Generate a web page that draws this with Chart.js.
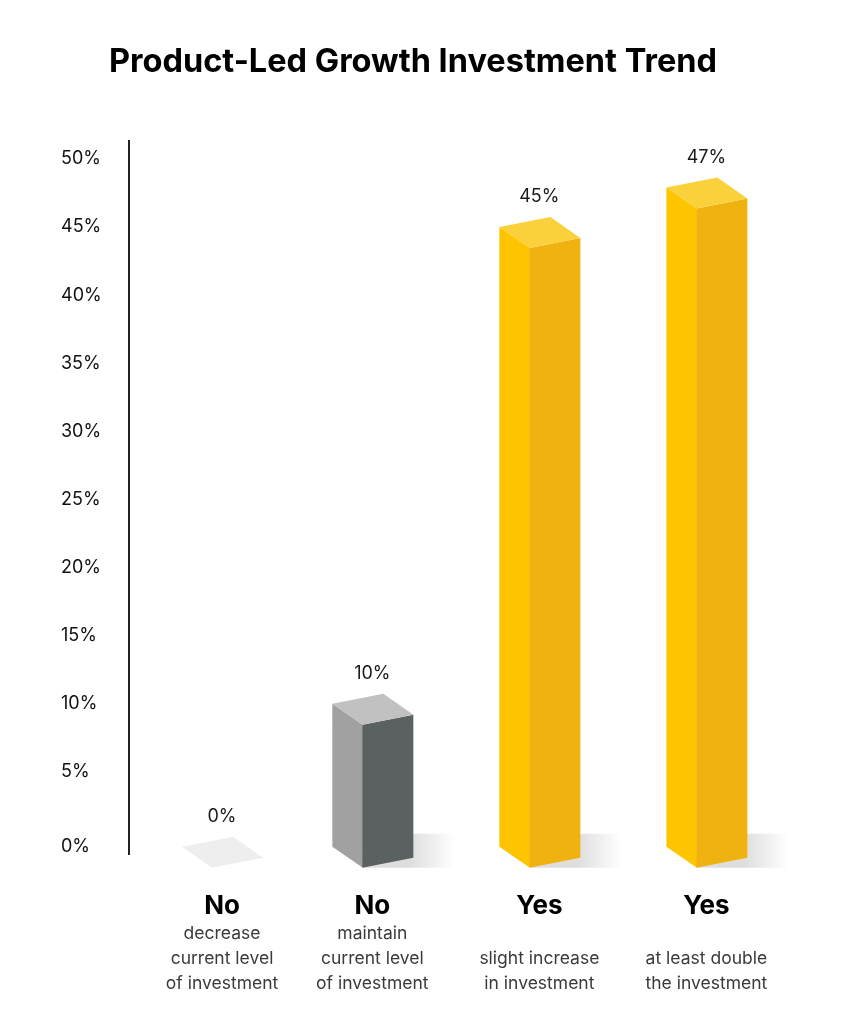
<!DOCTYPE html>
<html lang="en">
<head>
<meta charset="UTF-8">
<title>Product-Led Growth Investment Trend</title>
<script src="https://cdn.jsdelivr.net/npm/chart.js"></script>
<style>
    html, body { margin: 0; background: #fff; }
    canvas { display: block; }
</style>
</head>
<body>
<canvas id="grafico" width="858" height="1024"></canvas>
<script>
    const titleText = 'Product-Led Growth Investment Trend';
    const categories = ['No', 'No', 'Yes', 'Yes'];
    const descriptions = [
        ['decrease', 'current level', 'of investment'],
        ['maintain', 'current level', 'of investment'],
        ['', 'slight increase', 'in investment'],
        ['', 'at least double', 'the investment'],
    ];
    // the gap between the first two bars is narrower than the others in the picture
    const slots = [0, 0.9, 1.9, 2.9];
    const values = [0, 10, 45, 47.9]; // height as drawn, the last one is printed as 47%
    const valueLabels = ['0%', '10%', '45%', '47%'];
    const tickValues = [5, 10, 15, 20, 25, 30, 35, 40, 45, 50];
    const zeroLevel = -0.5; // 0% sits a little below the regular tick step

    const sideColors = ['#eeeeee', '#a1a1a1', '#ffc400', '#ffc400'];
    const frontColors = ['#eeeeee', '#5b6060', '#efb211', '#efb211'];
    const topColors = ['#eeeeee', '#c1c1c1', '#fbd13b', '#fbd13b'];

    const FONT = 'Inter, sans-serif';

    function poly(ctx, pts, color) {
        ctx.fillStyle = color;
        ctx.beginPath();
        pts.forEach((p, i) => i ? ctx.lineTo(p[0], p[1]) : ctx.moveTo(p[0], p[1]));
        ctx.closePath();
        ctx.fill();
    }

    // Box drawn from the bar element: same scales, three visible faces
    class Bar3dController extends Chart.BarController {
        draw() {
            const ctx = this.chart.ctx;
            const yScale = this.chart.scales.y;
            const base = yScale.getPixelForValue(zeroLevel);
            this.getMeta().data.forEach((bar, i) => {
                const x = bar.x;
                const top = values[i] === 0 ? base : bar.y;
                ctx.save();
                if (values[i] > 0) {
                    // soft floor shadow
                    const g = ctx.createLinearGradient(x + 38, 0, x + 82, 0);
                    g.addColorStop(0, 'rgba(0,0,0,0.13)');
                    g.addColorStop(1, 'rgba(0,0,0,0)');
                    poly(ctx, [[x + 36, base - 13], [x + 90, base - 13], [x + 85, base + 21], [x - 10, base + 21]], g);
                    // side runs half a pixel under the front face so no seam shows
                    poly(ctx, [[x - 40, top], [x - 9.5, top + 21], [x - 9.5, base + 21], [x - 40, base]], sideColors[i]);
                    poly(ctx, [[x - 10, top + 21], [x + 41, top + 11], [x + 41, base + 11], [x - 10, base + 21]], frontColors[i]);
                }
                poly(ctx, [[x - 40, top], [x + 11, top - 10], [x + 41, top + 11], [x - 10, top + 21]], topColors[i]);
                ctx.restore();
            });
        }
    }
    Bar3dController.id = 'bar3d';
    Chart.register(Bar3dController);

    const barText = {
        id: 'barText',
        afterDraw(chart) {
            const ctx = chart.ctx;
            const meta = chart.getDatasetMeta(0);
            const yScale = chart.scales.y;
            const base = yScale.getPixelForValue(zeroLevel);
            ctx.save();
            ctx.textAlign = 'center';
            ctx.textBaseline = 'middle';
            meta.data.forEach((bar, i) => {
                const top = values[i] === 0 ? base : bar.y;
                ctx.fillStyle = '#1a1a1a';
                ctx.font = '18px ' + FONT;
                ctx.fillText(valueLabels[i], bar.x, top - 30);
                ctx.fillStyle = '#3a3a3a';
                ctx.font = '17.5px ' + FONT;
                descriptions[i].forEach((line, k) => {
                    ctx.fillText(line, bar.x, 934 + k * 25);
                });
            });
            ctx.restore();
        }
    };

    new Chart(document.getElementById('grafico').getContext('2d'), {
        type: 'bar3d',
        plugins: [barText],
        data: {
            datasets: [{
                data: slots.map((s, i) => ({ x: s, y: values[i] })),
                clip: false,
            }]
        },
        options: {
            responsive: false,
            animation: false,
            layout: { padding: { left: 61, right: 93, top: 0, bottom: 0 } },
            plugins: {
                legend: { display: false },
                tooltip: { enabled: false },
                title: {
                    display: true,
                    text: titleText,
                    color: '#000',
                    font: { family: FONT, size: 32.5, weight: '700', lineHeight: 1.2 },
                    padding: { top: 43, bottom: 59 },
                },
            },
            scales: {
                x: {
                    type: 'linear',
                    min: -0.557,
                    max: 3.251,
                    offset: false,
                    grid: { display: false },
                    border: { display: false },
                    afterBuildTicks: s => { s.ticks = slots.map(v => ({ value: v })); },
                    afterFit: s => { s.height = 170; },
                    ticks: {
                        autoSkip: false,
                        maxRotation: 0,
                        padding: 29,
                        color: '#000',
                        font: { family: FONT, size: 26, weight: '700' },
                        callback: (v, i) => categories[i],
                    },
                },
                y: {
                    min: -1.03,
                    max: 51.32,
                    grid: { display: false, drawTicks: false },
                    border: { display: true, color: '#222', width: 2 },
                    afterBuildTicks: s => { s.ticks = [zeroLevel].concat(tickValues).map(v => ({ value: v })); },
                    afterFit: s => { s.width = 68; },
                    ticks: {
                        crossAlign: 'far',
                        padding: 0,
                        color: '#111',
                        font: { family: FONT, size: 18 },
                        callback: v => (v < 0 ? 0 : v) + '%',
                    },
                },
            },
        },
    });
</script>
</body>
</html>
